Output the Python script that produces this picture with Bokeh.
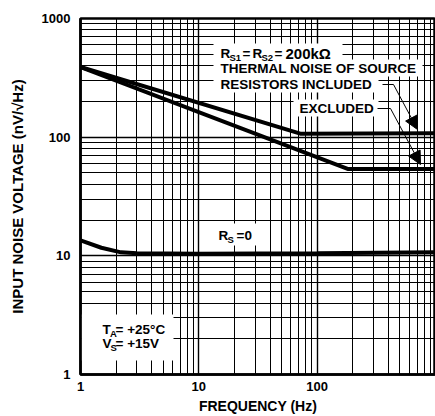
from bokeh.plotting import figure
from bokeh.models import (Label, BoxAnnotation, Arrow, NormalHead, FixedTicker, Range1d,
                          NumeralTickFormatter)
from bokeh.embed import file_html
from bokeh.resources import INLINE

# ---- data ----
freq_incl = [1, 72, 1000]
noise_incl = [390, 107, 108]          # Rs1=Rs2=200k, thermal noise included
freq_excl = [1, 181, 1000]
noise_excl = [390, 54, 54]            # thermal noise excluded
freq_rs0 = [1, 1.5, 2.2, 3, 10, 100, 1000]
noise_rs0 = [13.5, 11.7, 10.7, 10.5, 10.4, 10.5, 10.7]   # Rs = 0

x_ticks = [1, 10, 100]
y_ticks = [1, 10, 100, 1000]
x_minor = [m * d for d in (1, 10, 100) for m in range(2, 10)]
y_minor = [m * d for d in (1, 10, 100) for m in range(2, 10)]

FONT = "Liberation Sans"

# frame geometry (pixels) used to place annotations
L, R_, T_, B_ = 80, 435, 18, 374
def dx(px):
    return 10 ** ((px - L) / (R_ - L) * 3)
def dy(py):
    return 10 ** ((B_ - py) / (B_ - T_) * 3)

p = figure(width=435, height=416, x_axis_type="log", y_axis_type="log",
           x_range=Range1d(1, 1000), y_range=Range1d(1, 1000),
           output_backend="svg", toolbar_location=None,
           min_border_left=80, min_border_right=0, min_border_top=18, min_border_bottom=42)
p.background_fill_color = "white"
p.border_fill_color = "white"
p.outline_line_color = "black"
p.outline_line_width = 2.5

p.xaxis.ticker = FixedTicker(ticks=x_ticks, minor_ticks=x_minor)
p.yaxis.ticker = FixedTicker(ticks=y_ticks, minor_ticks=y_minor)

for ax in (p.xaxis, p.yaxis):
    ax.formatter = NumeralTickFormatter(format="0")
    ax.axis_line_color = "black"
    ax.axis_line_width = 2.5
    ax.major_tick_line_color = None
    ax.minor_tick_line_color = None
    ax.major_tick_out = 0
    ax.major_tick_in = 0
    ax.minor_tick_out = 0
    ax.minor_tick_in = 0
    ax.major_label_text_font = FONT
    ax.major_label_text_font_style = "bold"
    ax.major_label_text_font_size = "13px"
    ax.major_label_text_color = "black"
    ax.axis_label_text_font = FONT
    ax.axis_label_text_font_style = "bold"
    ax.axis_label_text_color = "black"

p.xaxis.major_label_standoff = 7
p.xaxis.axis_label = "FREQUENCY (Hz)"
p.xaxis.axis_label_text_font_size = "14px"
p.xaxis.axis_label_standoff = 4
p.yaxis.major_label_standoff = 10
p.yaxis.axis_label = "INPUT NOISE VOLTAGE (nV/\u221aHz)"
p.yaxis.axis_label_text_font_size = "15px"
p.yaxis.axis_label_standoff = 13

for g in (p.xgrid, p.ygrid):
    g.grid_line_color = "black"
    g.grid_line_width = 1.4
    g.minor_grid_line_color = "black"
    g.minor_grid_line_width = 1
    g.level = "image"

# white boxes behind the texts
def box(x0, x1, y0, y1):
    p.add_layout(BoxAnnotation(left=dx(x0), right=dx(x1), top=dy(y0), bottom=dy(y1),
                               fill_color="white", fill_alpha=1, line_color=None,
                               level="underlay"))

box(213, 342, 43, 61)
box(213, 422, 59, 76)
box(213, 378, 75, 92)
box(293, 378, 99, 116)
box(212, 262, 223, 245)
box(81, 173, 314, 360)

# curves
p.line(freq_incl, noise_incl, line_color="black", line_width=4)
p.line(freq_excl, noise_excl, line_color="black", line_width=4)
p.line(freq_rs0, noise_rs0, line_color="black", line_width=4)

def txt(px, py, s, size=13.5):
    p.add_layout(Label(x=dx(px), y=dy(py), text=s, text_font=FONT,
                       text_font_style="bold", text_font_size=f"{size}px",
                       text_color="black", text_align="left", text_baseline="middle"))

# R_S1 = R_S2 = 200kΩ
txt(220, 53, "R")
txt(229, 57, "S1", 9.5)
txt(242, 53, "=")
txt(252, 53, "R")
txt(261, 57, "S2", 9.5)
txt(274, 53, "=")
txt(285, 53, "200k\u03a9", 15)
txt(220, 68, "THERMAL NOISE OF SOURCE")
txt(220, 84, "RESISTORS INCLUDED")
txt(299, 108, "EXCLUDED")

# R_S = 0
txt(218, 235, "R")
txt(227, 239, "S", 9.5)
txt(236, 235, "=0")

# conditions
txt(102, 329, "T")
txt(109.5, 333, "A", 9.5)
txt(115, 329, "= +25\u00b0C")
txt(102, 343, "V")
txt(110, 347, "S", 9.5)
txt(115, 343, "= +15V")

# arrows
p.add_layout(Arrow(end=None, x_start=dx(382), y_start=dy(84), x_end=dx(393), y_end=dy(84),
                   line_color="black", line_width=1))
p.add_layout(Arrow(end=NormalHead(size=13, fill_color="black", line_color="black"),
                   x_start=dx(393), y_start=dy(84), x_end=dx(417), y_end=dy(129),
                   line_color="black", line_width=1))
p.add_layout(Arrow(end=None, x_start=dx(377), y_start=dy(108), x_end=dx(390), y_end=dy(108),
                   line_color="black", line_width=1))
p.add_layout(Arrow(end=NormalHead(size=13, fill_color="black", line_color="black"),
                   x_start=dx(390), y_start=dy(108), x_end=dx(420), y_end=dy(164),
                   line_color="black", line_width=1))

# last x tick label, kept inside the window
p.add_layout(Label(x=1000, y=dy(388), x_offset=-1, text="1000", text_font=FONT,
                   text_font_style="bold", text_font_size="13px", text_color="black",
                   text_align="right", text_baseline="middle"))

open("out.html", "w").write(file_html(p, INLINE))
